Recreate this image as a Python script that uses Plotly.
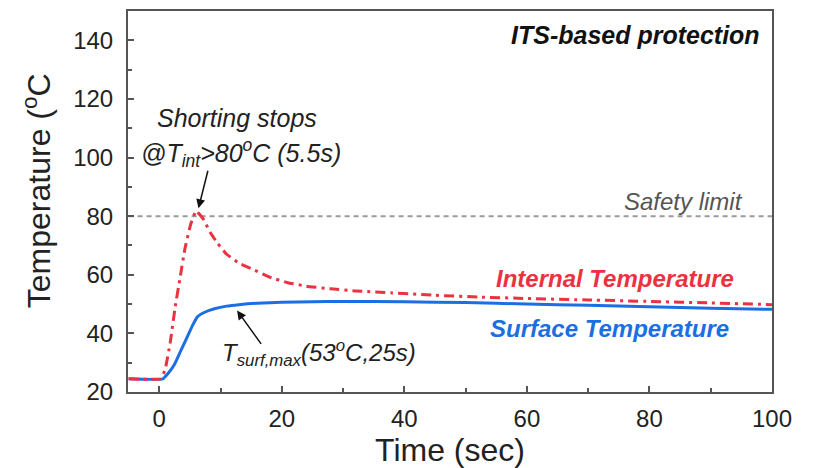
import plotly.graph_objects as go

# Internal temperature (red dash-dot)
t_int = [-5, 0.3, 1.0, 1.8, 2.6, 3.4, 4.2, 5.1, 6.0, 7.2, 8.3, 9.5, 11, 13, 15.3, 18, 21, 24, 28, 32, 38, 45, 52, 60, 70, 80, 90, 100]
T_int = [24.5, 24.5, 28, 37, 49, 59, 69, 77, 81.8, 79, 74.5, 70.8, 67, 64, 61.8, 59.2, 57.3, 56.1, 55.2, 54.5, 53.8, 53.0, 52.4, 51.9, 51.4, 50.9, 50.4, 49.8]

# Surface temperature (blue solid)
t_surf = [-5, 0.6, 1.5, 2.5, 3.5, 4.5, 5.5, 6.3, 7.5, 9, 11, 13, 16, 20, 25, 30, 40, 50, 60, 70, 80, 90, 100]
T_surf = [24.5, 24.5, 26.5, 29.5, 34, 38.5, 43, 45.8, 47.3, 48.4, 49.3, 49.8, 50.3, 50.6, 50.8, 50.9, 50.8, 50.5, 50.0, 49.6, 49.1, 48.6, 48.2]

safety_limit = 80
x_ticks = [0, 20, 40, 60, 80, 100]
y_ticks = [20, 40, 60, 80, 100, 120, 140]

RED = "#ec3140"
BLUE = "#1c6fe2"
FONT = "Liberation Sans, Arial, sans-serif"

fig = go.Figure()
fig.add_trace(go.Scatter(x=[-5, 100], y=[safety_limit, safety_limit], mode="lines",
                         line=dict(color="#9a9a9a", width=2, dash="5px,4px"), hoverinfo="skip"))
fig.add_trace(go.Scatter(x=t_surf, y=T_surf, mode="lines",
                         line=dict(color=BLUE, width=3, shape="spline", smoothing=0.4)))
fig.add_trace(go.Scatter(x=t_int, y=T_int, mode="lines",
                         line=dict(color=RED, width=3, dash="10px,5px,3px,5px", shape="spline", smoothing=0.3)))

axis_common = dict(showline=True, linecolor="#555555", linewidth=2, mirror=True,
                   ticks="inside", ticklen=6, tickwidth=1.5, tickcolor="#555555",
                   showgrid=False, zeroline=False,
                   tickfont=dict(family=FONT, size=24, color="#222222"))

# the page adds an 8px body margin, compensated in the margins below
fig.update_layout(
    width=820, height=468,
    margin=dict(l=120, r=56, t=1, b=84),
    paper_bgcolor="white", plot_bgcolor="white",
    showlegend=False,
    font=dict(family=FONT, color="#222222"),
    xaxis=dict(range=[-5.1, 100], tickvals=x_ticks, ticklabelstandoff=4,
               minor=dict(ticks="inside", ticklen=4, tickwidth=1.5, tickcolor="#555555", dtick=10, tick0=0),
               title=dict(text="Time (sec)", font=dict(family=FONT, size=32, color="#222222"), standoff=2),
               **axis_common),
    yaxis=dict(range=[20, 150], tickvals=y_ticks, ticklabelstandoff=8,
               minor=dict(ticks="inside", ticklen=4, tickwidth=1.5, tickcolor="#555555", dtick=10, tick0=0),
               **axis_common),
)

# y-axis title as a rotated annotation
fig.add_annotation(text="Temperature (<sup>o</sup>C", xref="paper", yref="paper",
                   x=0, y=0.527, xanchor="center", yanchor="middle", xshift=-91,
                   textangle=-90, showarrow=False,
                   font=dict(family=FONT, size=32, color="#222222"))

def note(text, x, y, color="#222222", size=24, bold=False, xanchor="center"):
    fig.add_annotation(x=x, y=y, xref="x", yref="y", text=text, showarrow=False,
                       xanchor=xanchor, yanchor="middle",
                       font=dict(family=FONT, size=size, color=color, style="italic",
                                 weight="bold" if bold else "normal"))

note("ITS-based protection", 98.4, 141.7, color="#111111", size=25, bold=True, xanchor="right")
note("Safety limit", 95.6, 85, color="#555555", xanchor="right")
note("Internal Temperature", 74.4, 58.6, color=RED, bold=True)
note("Surface Temperature", 73.5, 41.7, color=BLUE, bold=True)
note("Shorting stops", 12.7, 113.5, size=25)
note("@T<sub>int</sub>>80<sup>o</sup>C (5.5s)", 13.4, 101.4, size=25)
note("T<sub>surf,max</sub>(53<sup>o</sup>C,25s)", 26.1, 33.3)

# arrows
fig.add_annotation(x=6.4, y=82.7, ax=8.0, ay=96, xref="x", yref="y", axref="x", ayref="y",
                   text="", showarrow=True, arrowhead=2, arrowsize=1.2, arrowwidth=1.5, arrowcolor="#111111")
fig.add_annotation(x=12.7, y=47.8, ax=16.8, ay=35.9, xref="x", yref="y", axref="x", ayref="y",
                   text="", showarrow=True, arrowhead=2, arrowsize=1.2, arrowwidth=1.5, arrowcolor="#111111")

fig.write_html("out.html")
